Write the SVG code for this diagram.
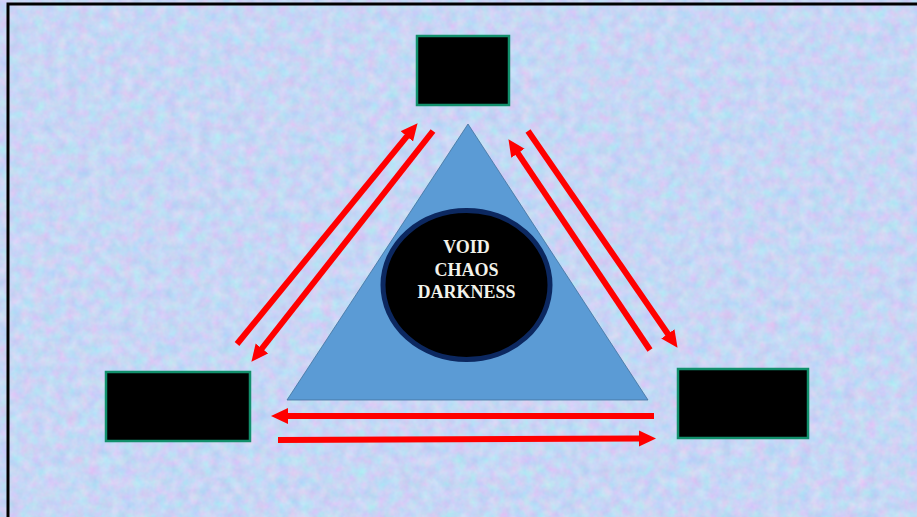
<svg xmlns="http://www.w3.org/2000/svg" width="917" height="517" viewBox="0 0 917 517">
  <defs>
    <filter id="tex" x="0" y="0" width="100%" height="100%" filterUnits="userSpaceOnUse" color-interpolation-filters="sRGB">
      <feTurbulence type="fractalNoise" baseFrequency="0.09" numOctaves="3" seed="7"/>
      <feColorMatrix type="matrix" values="0.25 0 0 0 0.655  -0.08 0.15 0 0 0.805  0 0 0.06 0 0.93  0 0 0 0 1"/>
    </filter>
    <marker id="head" markerUnits="userSpaceOnUse" markerWidth="18" markerHeight="18" refX="2" refY="8" orient="auto">
      <path d="M0,0 L17,8 L0,16 z" fill="#ff0000"/>
    </marker>
    <style>
      .box { fill: #000000; stroke: #12906c; stroke-width: 2.5; }
      .arr { stroke: #ff0000; stroke-width: 6; fill: none; marker-end: url(#head); }
      .lbl { font-family: "Liberation Serif", "Times New Roman", serif; font-weight: bold; font-size: 18px; fill: #f2f2ea; text-anchor: middle; }
    </style>
  </defs>
  <rect x="0" y="0" width="917" height="517" fill="#ffffff"/>
  <rect x="8" y="4" width="920" height="520" fill="#c4d4f5"/>
  <rect x="8" y="4" width="920" height="520" filter="url(#tex)"/>
  <rect x="8" y="4" width="920" height="520" fill="none" stroke="#000000" stroke-width="3"/>

  <g id="triangle">
    <polygon points="468,124 287,400 648,400" fill="#5b9bd5" stroke="#41719c" stroke-width="0.8"/>
  </g>
  <g id="center">
    <ellipse cx="466.5" cy="285" rx="83.5" ry="74.5" fill="#000000" stroke="#0c2860" stroke-width="5"/>
    <text class="lbl" x="466.5" y="253">VOID</text>
    <text class="lbl" x="466.5" y="275.5">CHAOS</text>
    <text class="lbl" x="466.5" y="298">DARKNESS</text>
  </g>

  <g id="box-top"><rect class="box" x="417" y="36" width="92" height="69"/></g>
  <g id="box-left"><rect class="box" x="106" y="372" width="144" height="69"/></g>
  <g id="box-right"><rect class="box" x="678" y="369" width="130" height="69"/></g>

  <g id="connectors">
    <line class="arr" x1="237" y1="344" x2="408.1" y2="134.8"/>
    <line class="arr" x1="433" y1="131" x2="260.7" y2="350"/>
    <line class="arr" x1="650" y1="350" x2="516.8" y2="151.6"/>
    <line class="arr" x1="528" y1="131" x2="669" y2="335.5"/>
    <line class="arr" x1="654" y1="416" x2="286" y2="416"/>
    <line class="arr" x1="278" y1="440" x2="641" y2="438.5"/>
  </g>
</svg>
